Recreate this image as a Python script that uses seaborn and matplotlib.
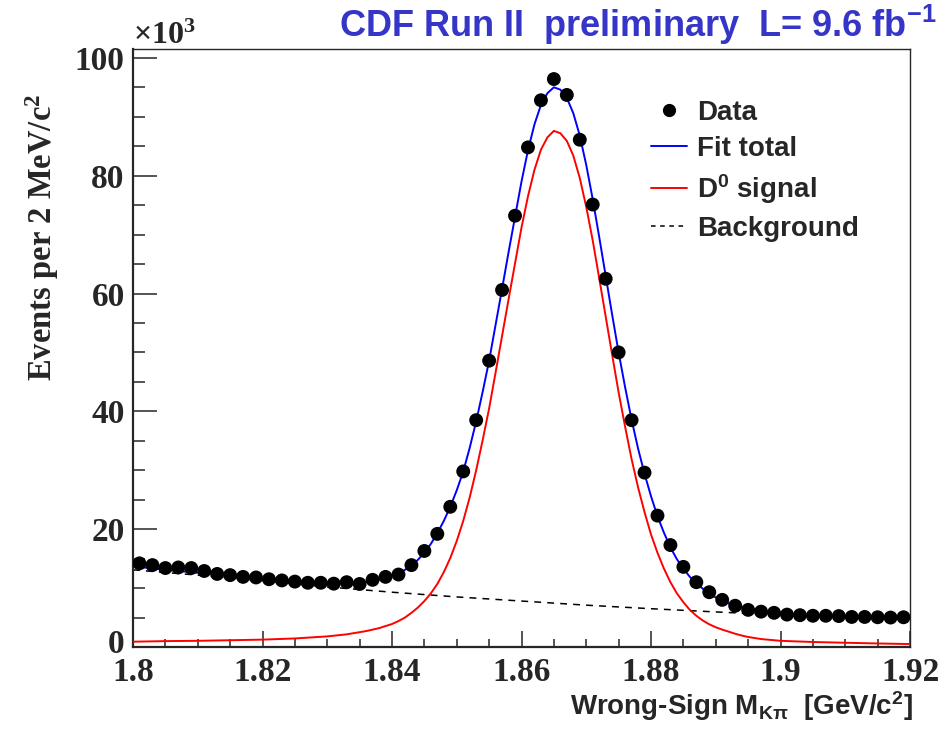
import numpy as np
import pandas as pd
import matplotlib
matplotlib.use("Agg")
import matplotlib.pyplot as plt
import seaborn as sns
from matplotlib.lines import Line2D
from matplotlib.ticker import MultipleLocator, FuncFormatter
from matplotlib.transforms import ScaledTranslation

# Wrong-sign K-pi invariant mass, 2 MeV/c^2 bins from 1.80 to 1.92 GeV/c^2
bin_low = 1.80
bin_width = 0.002
n_bins = 60

# Events per bin, in units of 10^3
data_counts_k = [
    14.2, 13.9, 13.4, 13.5, 13.4, 12.9, 12.4, 12.2, 11.9, 11.8,
    11.5, 11.3, 11.1, 10.9, 10.9, 10.75, 11.0, 10.7, 11.4, 11.9,
    12.3, 13.9, 16.3, 19.2, 23.8, 29.8, 38.5, 48.6, 60.6, 73.2,
    84.8, 92.8, 96.4, 93.7, 86.1, 75.1, 62.5, 50.0, 38.5, 29.6,
    22.3, 17.3, 13.6, 11.0, 9.3, 8.0, 7.0, 6.3, 6.0, 5.8,
    5.5, 5.4, 5.3, 5.3, 5.25, 5.1, 5.1, 5.05, 5.0, 5.05,
]

# Fit curves sampled in mass (GeV/c^2), values in units of 10^3
fit_mass = [
    1.800, 1.805, 1.810, 1.815, 1.820, 1.825, 1.830, 1.833, 1.836, 1.838,
    1.840, 1.841, 1.842, 1.843, 1.844, 1.845, 1.846, 1.847, 1.848, 1.849,
    1.850, 1.851, 1.852, 1.853, 1.854, 1.855, 1.856, 1.857, 1.858, 1.859,
    1.860, 1.861, 1.862, 1.863, 1.864, 1.865, 1.866, 1.867, 1.868, 1.869,
    1.870, 1.871, 1.872, 1.873, 1.874, 1.875, 1.876, 1.877, 1.878, 1.879,
    1.880, 1.881, 1.882, 1.883, 1.884, 1.885, 1.886, 1.887, 1.888, 1.889,
    1.890, 1.891, 1.892, 1.893, 1.894, 1.895,
    1.897, 1.900, 1.905, 1.910, 1.915, 1.920,
]
fit_total_k = [
    13.7, 13.1, 12.6, 12.1, 11.6, 11.2, 10.95, 10.9, 11.05, 11.45,
    12.05, 12.5, 13.1, 13.8, 14.8, 16.0, 17.5, 19.3, 21.4, 23.8,
    26.6, 29.8, 33.8, 38.3, 43.3, 48.6, 54.7, 60.8, 67.0, 73.0,
    79.0, 84.3, 88.7, 92.0, 94.0, 95.0, 94.6, 93.2, 90.6, 86.8,
    81.8, 76.0, 69.6, 63.0, 56.4, 50.0, 44.1, 38.6, 33.7, 29.4,
    25.6, 22.2, 19.4, 16.9, 14.9, 13.3, 11.9, 10.8, 9.9, 9.1,
    8.4, 7.9, 7.4, 7.0, 6.7, 6.4,
    6.0, 5.65, 5.4, 5.2, 5.1, 5.0,
]
signal_k = [
    0.9, 1.0, 1.05, 1.15, 1.25, 1.45, 1.8, 2.15, 2.7, 3.2,
    3.9, 4.4, 5.0, 5.8, 6.7, 7.8, 9.1, 10.7, 12.7, 15.1,
    18.0, 21.4, 25.4, 30.0, 35.1, 40.5, 46.6, 52.8, 59.0, 65.1,
    71.2, 76.5, 81.0, 84.4, 86.5, 87.6, 87.2, 85.9, 83.4, 79.6,
    74.7, 69.0, 62.6, 56.1, 49.6, 43.2, 37.4, 31.9, 27.1, 22.9,
    19.1, 16.0, 13.3, 11.0, 9.1, 7.6, 6.3, 5.3, 4.5, 3.85,
    3.35, 2.95, 2.6, 2.25, 1.95, 1.7,
    1.35, 1.05, 0.85, 0.72, 0.6, 0.5,
]
bkg_mass = [1.80, 1.81, 1.82, 1.83, 1.84, 1.85, 1.86, 1.87, 1.88, 1.89, 1.90, 1.91, 1.92]
bkg_k = [13.1, 12.2, 11.2, 10.2, 9.3, 8.5, 7.8, 7.1, 6.5, 5.95, 5.45, 5.0, 4.6]

legend_labels = ["Data", "Fit total", r"D$^{0}$ signal", "Background"]

# bin centres of the mass histogram
bin_centers = bin_low + bin_width * (np.arange(n_bins) + 0.5)
data_df = pd.DataFrame({"mass": bin_centers, "events": data_counts_k})
fit_df = pd.DataFrame({"mass": fit_mass, "total": fit_total_k, "signal": signal_k})
bkg_df = pd.DataFrame({"mass": bkg_mass, "bkg": bkg_k})

sns.set_theme(style="ticks")
plt.rcParams.update({
    "font.family": ["Liberation Sans", "DejaVu Sans"],
    "mathtext.default": "regular",
    "axes.linewidth": 1.5,
})

W, H = 947, 736
fig = plt.figure(figsize=(W / 100, H / 100), dpi=100)
ax = fig.add_axes([133 / W, 1 - 647 / H, (910 - 133) / W, (647 - 49) / H])

BLUE = "#0000ff"
RED = "#ff0000"

sns.lineplot(data=bkg_df, x="mass", y="bkg", ax=ax, color="black", lw=1.1,
             linestyle=(0, (4.5, 4)), estimator=None, sort=False, zorder=2)
sns.lineplot(data=fit_df, x="mass", y="signal", ax=ax, color=RED, lw=1.4,
             estimator=None, sort=False, zorder=3)
sns.lineplot(data=fit_df, x="mass", y="total", ax=ax, color=BLUE, lw=1.4,
             estimator=None, sort=False, zorder=4)
sns.scatterplot(data=data_df, x="mass", y="events", ax=ax, color="black",
                s=100, edgecolor="none", linewidth=0, zorder=5)

ax.set_xlim(1.80, 1.92)
ax.set_ylim(0, 101.5)
ax.set_xlabel("")
ax.set_ylabel("")

ax.xaxis.set_major_locator(MultipleLocator(0.02))
ax.xaxis.set_minor_locator(MultipleLocator(0.005))
ax.yaxis.set_major_locator(MultipleLocator(20))
ax.yaxis.set_minor_locator(MultipleLocator(5))
ax.xaxis.set_major_formatter(FuncFormatter(lambda v, p: "{:g}".format(round(v, 3))))
ax.yaxis.set_major_formatter(FuncFormatter(lambda v, p: "{:g}".format(round(v, 3))))

ax.tick_params(axis="x", which="major", direction="in", length=11.5, width=1.1, pad=7)
ax.tick_params(axis="x", which="minor", direction="in", length=5.8, width=1.1)
ax.tick_params(axis="y", which="major", direction="in", length=17, width=1.1, pad=6)
ax.tick_params(axis="y", which="minor", direction="in", length=8.5, width=1.1)
for lab in ax.get_xticklabels() + ax.get_yticklabels():
    lab.set_fontfamily("Liberation Serif")
    lab.set_fontweight("bold")
    lab.set_fontsize(24)

# lift the zero label of the y axis a little so it clears the first x label
fig.canvas.draw()
for lab in ax.get_yticklabels():
    if lab.get_text() == "0":
        lab.set_transform(lab.get_transform()
                          + ScaledTranslation(0, 4 / 72, fig.dpi_scale_trans))

for side in ("top", "right"):
    ax.spines[side].set_visible(True)
    ax.spines[side].set_linewidth(1.0)
for side in ("left", "bottom"):
    ax.spines[side].set_linewidth(1.6)
ax.grid(False)

# exponent marker above the y axis
fig.text(133 / W, 1 - 44 / H, r"$\times$10$^{3}$", ha="left", va="baseline",
         fontsize=23, fontfamily="Liberation Serif", fontweight="bold")

# y-axis title
fig.text(42 / W, 1 - 237 / H, r"Events per 2 MeV/c$^{2}$", rotation=90,
         ha="center", va="center", fontsize=23.5, fontfamily="Liberation Serif",
         fontweight="bold")

# x-axis title
fig.text(913 / W, 1 - 715 / H, r"Wrong-Sign M$_{K\pi}$  [GeV/c$^{2}$]",
         ha="right", va="baseline", fontsize=20, fontweight="bold")

# experiment label
fig.text(937 / W, 1 - 37 / H, r"CDF Run II  preliminary  L= 9.6 fb$^{-1}$",
         ha="right", va="baseline", fontsize=26, fontweight="bold", color="#3535c8")

handles = [
    Line2D([], [], marker="o", color="black", ls="none", markersize=8.5),
    Line2D([], [], color=BLUE, lw=1.4),
    Line2D([], [], color=RED, lw=1.4),
    Line2D([], [], color="black", lw=1.1, ls=(0, (3, 3))),
]
leg = fig.legend(handles, legend_labels, loc="upper left",
                 bbox_to_anchor=(651 / W, 1 - 100 / H), frameon=False,
                 prop={"family": "Liberation Sans", "weight": "bold", "size": 20},
                 handlelength=1.3, handletextpad=0.35, labelspacing=0.36,
                 borderaxespad=0, borderpad=0)

fig.savefig("out.png", dpi=100)
